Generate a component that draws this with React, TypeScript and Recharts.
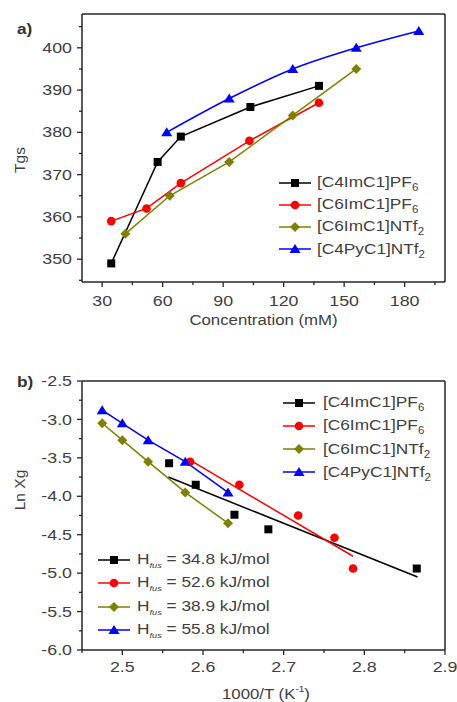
import React from 'react';
import { ComposedChart, Line, Scatter, XAxis, YAxis, Legend } from 'recharts';

const FONT = '"Liberation Sans", Arial, Helvetica, sans-serif';
const TEXT = '#404040';
const AXIS = '#262626';
const SX = 1.15; // the source picture is stretched a little horizontally

// series shared by both panels
const ilNames = ['[C4ImC1]PF6', '[C6ImC1]PF6', '[C6ImC1]NTf2', '[C4PyC1]NTf2'];
const ilColors = ['#000000', '#ff0000', '#808000', '#0000ff'];
const ilShapes = ['square', 'circle', 'diamond', 'triangle'];

// a) Tgs vs concentration
const concC4ImPF6 = [34.5, 57.5, 69, 103.5, 137.5];
const tgsC4ImPF6 = [349, 373, 379, 386, 391];
const concC6ImPF6 = [34.5, 52, 69, 103, 137.5];
const tgsC6ImPF6 = [359, 362, 368, 378, 387];
const concC6ImNTf2 = [41.5, 63.5, 93, 124.5, 156];
const tgsC6ImNTf2 = [356, 365, 373, 384, 395];
const concC4PyNTf2 = [62, 93, 124.5, 156, 187];
const tgsC4PyNTf2 = [380, 388, 395, 400, 404];

const concMajor = [30, 60, 90, 120, 150, 180];
const concMinor = [45, 75, 105, 135, 165, 195];
const tgsMajor = [350, 360, 370, 380, 390, 400];
const tgsMinor = [345, 355, 365, 375, 385, 395, 405];

// b) Ln Xg vs 1000/T
const invTC4ImPF6 = [2.558, 2.591, 2.639, 2.681, 2.865];
const lnXgC4ImPF6 = [-3.57, -3.85, -4.24, -4.43, -4.94];
const invTC6ImPF6 = [2.584, 2.645, 2.718, 2.763, 2.786];
const lnXgC6ImPF6 = [-3.55, -3.85, -4.25, -4.54, -4.94];
const invTC6ImNTf2 = [2.475, 2.5, 2.532, 2.578, 2.631];
const lnXgC6ImNTf2 = [-3.05, -3.27, -3.55, -3.95, -4.35];
const invTC4PyNTf2 = [2.475, 2.5, 2.532, 2.578, 2.631];
const lnXgC4PyNTf2 = [-2.88, -3.05, -3.27, -3.55, -3.95];

// straight fit lines drawn for the two PF6 salts
const fitInvTC4ImPF6 = [2.557, 2.866];
const fitLnC4ImPF6 = [-3.75, -5.05];
const fitInvTC6ImPF6 = [2.584, 2.786];
const fitLnC6ImPF6 = [-3.53, -4.78];

const hfusValues = [34.8, 52.6, 38.9, 55.8];

const invTMajor = [2.5, 2.6, 2.7, 2.8, 2.9];
const invTMinor = [2.45, 2.55, 2.65, 2.75, 2.85];
const lnXgMajor = [-6, -5.5, -5, -4.5, -4, -3.5, -3, -2.5];
const lnXgMinor = [-5.75, -5.25, -4.75, -4.25, -3.75, -3.25, -2.75];

const zip = (xs: number[], ys: number[]) => xs.map((x, i) => ({ x, y: ys[i] }));
const byValue = (a: number, b: number) => a - b;

const concA = [concC4ImPF6, concC6ImPF6, concC6ImNTf2, concC4PyNTf2];
const tgsA = [tgsC4ImPF6, tgsC6ImPF6, tgsC6ImNTf2, tgsC4PyNTf2];

function Marker({ shape, cx, cy, color }: any) {
  if (cx == null || cy == null) return null;
  switch (shape) {
    case 'square':
      return <rect x={cx - 4} y={cy - 4} width={8} height={8} fill={color} />;
    case 'circle':
      return <circle cx={cx} cy={cy} r={4.3} fill={color} />;
    case 'diamond':
      return <polygon points={`${cx},${cy - 5} ${cx + 5},${cy} ${cx},${cy + 5} ${cx - 5},${cy}`} fill={color} />;
    default:
      return <polygon points={`${cx},${cy - 5} ${cx + 5.5},${cy + 4} ${cx - 5.5},${cy + 4}`} fill={color} />;
  }
}

function AxisTick({ x, y, payload, side, majors, fmt, gap }: any) {
  const v = payload.value;
  const isMajor = majors.some((m: number) => Math.abs(m - v) < 1e-6);
  const len = isMajor ? 5 : 3;
  if (side === 'left') {
    return (
      <g>
        <line x1={x} x2={x - len} y1={y} y2={y} stroke={AXIS} strokeWidth={1.3} />
        {isMajor && (
          <text transform={`translate(${x - gap},${y}) scale(${SX},1)`} textAnchor="end"
            dominantBaseline="central" fontSize={15.5} fill={TEXT} fontFamily={FONT}>
            {fmt(v)}
          </text>
        )}
      </g>
    );
  }
  return (
    <g>
      <line x1={x} x2={x} y1={y} y2={y + len} stroke={AXIS} strokeWidth={1.3} />
      {isMajor && (
        <text transform={`translate(${x},${y + gap}) scale(${SX},1)`} textAnchor="middle"
          dominantBaseline="central" fontSize={15.5} fill={TEXT} fontFamily={FONT}>
          {fmt(v)}
        </text>
      )}
    </g>
  );
}

function SubName({ name }: { name: string }) {
  const m = name.match(/^(.*?)(\d)$/);
  if (!m) return <>{name}</>;
  return (
    <>
      {m[1]}
      <span style={{ fontSize: 10, position: 'relative', top: 4 }}>{m[2]}</span>
    </>
  );
}

function LegendRow({ color, shape, height, gap, children }: any) {
  return (
    <div style={{ display: 'flex', alignItems: 'center', height }}>
      <svg width={32} height={12} style={{ flex: 'none' }}>
        <line x1={0} x2={32} y1={6} y2={6} stroke={color} strokeWidth={1.5} />
        <Marker shape={shape} cx={16} cy={6} color={color} />
      </svg>
      <span style={{
        marginLeft: gap, transform: `scaleX(${SX})`, transformOrigin: 'left center',
        whiteSpace: 'nowrap', fontSize: 15, color: TEXT, fontFamily: FONT, lineHeight: '15px',
      }}>
        {children}
      </span>
    </div>
  );
}

const legendWrap = { left: 0, top: 0, width: 457, height: 0, pointerEvents: 'none' as const };

function ChartA() {
  const plotTicksX = [...concMajor, ...concMinor].sort(byValue);
  const plotTicksY = [...tgsMajor, ...tgsMinor].sort(byValue);
  return (
    <ComposedChart width={457} height={345} margin={{ top: 13, right: 11, bottom: 23, left: 22 }}>
      <XAxis dataKey="x" type="number" domain={[20, 200]} ticks={plotTicksX} interval={0}
        tickSize={0} tickMargin={0} tickLine={false} height={40}
        axisLine={{ stroke: AXIS, strokeWidth: 1.5 }}
        tick={(p: any) => <AxisTick {...p} side="bottom" majors={concMajor} fmt={(v: number) => String(v)} gap={18.5} />} />
      <XAxis xAxisId="top" orientation="top" type="number" domain={[20, 200]} height={1}
        tick={false} tickLine={false} axisLine={{ stroke: AXIS, strokeWidth: 1.5 }} />
      <YAxis dataKey="y" type="number" domain={[344.6, 408]} ticks={plotTicksY} interval={0}
        tickSize={0} tickMargin={0} tickLine={false} width={60}
        axisLine={{ stroke: AXIS, strokeWidth: 1.5 }}
        tick={(p: any) => <AxisTick {...p} side="left" majors={tgsMajor} fmt={(v: number) => String(v)} gap={10} />} />
      <YAxis yAxisId="right" orientation="right" type="number" domain={[344.6, 408]} width={1}
        tick={false} tickLine={false} axisLine={{ stroke: AXIS, strokeWidth: 1.5 }} />
      {ilNames.map((name, i) => (
        <Line key={name} name={name} data={zip(concA[i], tgsA[i])} dataKey="y"
          type={i === 3 ? 'monotone' : 'linear'} stroke={ilColors[i]} strokeWidth={1.5}
          isAnimationActive={false} activeDot={false}
          dot={(p: any) => <Marker key={`${name}-${p.index}`} shape={ilShapes[i]} cx={p.cx} cy={p.cy} color={ilColors[i]} />} />
      ))}
      <text x={17} y={28} dominantBaseline="central" fontSize={15} fontWeight="bold" fill="#333" fontFamily={FONT}
        transform={`translate(${17 * (1 - SX)},0) scale(${SX},1)`}>a)</text>
      <text transform="translate(19,160) rotate(-90)" textAnchor="middle" dominantBaseline="central"
        fontSize={15.5} fill={TEXT} fontFamily={FONT}>Tgs</text>
      <text transform={`translate(263.5,320) scale(${SX - 0.03},1)`} textAnchor="middle" dominantBaseline="central"
        fontSize={15} fill={TEXT} fontFamily={FONT}>Concentration (mM)</text>
      <Legend layout="horizontal" verticalAlign="middle" align="center" wrapperStyle={legendWrap}
        content={() => (
          <div style={{ position: 'absolute', left: 279, top: 171.7 }}>
            {ilNames.map((name, i) => (
              <LegendRow key={name} color={ilColors[i]} shape={ilShapes[i]} height={22.1} gap={6}>
                <SubName name={name} />
              </LegendRow>
            ))}
          </div>
        )} />
    </ComposedChart>
  );
}

function ChartB() {
  const plotTicksX = [...invTMajor, ...invTMinor].sort(byValue);
  const plotTicksY = [...lnXgMajor, ...lnXgMinor].sort(byValue);
  const fit = (v: number) => v.toFixed(1);
  return (
    <ComposedChart width={457} height={352} margin={{ top: 30, right: 11, bottom: 12, left: 22 }}>
      <XAxis dataKey="x" type="number" domain={[2.45, 2.9]} ticks={plotTicksX} interval={0}
        tickSize={0} tickMargin={0} tickLine={false} height={40}
        axisLine={{ stroke: AXIS, strokeWidth: 1.5 }}
        tick={(p: any) => <AxisTick {...p} side="bottom" majors={invTMajor} fmt={fit} gap={16.5} />} />
      <XAxis xAxisId="top" orientation="top" type="number" domain={[2.45, 2.9]} height={1}
        tick={false} tickLine={false} axisLine={{ stroke: AXIS, strokeWidth: 1.5 }} />
      <YAxis dataKey="y" type="number" domain={[-6, -2.5]} ticks={plotTicksY} interval={0}
        tickSize={0} tickMargin={0} tickLine={false} width={60}
        axisLine={{ stroke: AXIS, strokeWidth: 1.5 }}
        tick={(p: any) => <AxisTick {...p} side="left" majors={lnXgMajor} fmt={fit} gap={10} />} />
      <YAxis yAxisId="right" orientation="right" type="number" domain={[-6, -2.5]} width={1}
        tick={false} tickLine={false} axisLine={{ stroke: AXIS, strokeWidth: 1.5 }} />

      <Line data={zip(fitInvTC4ImPF6, fitLnC4ImPF6)} dataKey="y" type="linear" stroke={ilColors[0]}
        strokeWidth={1.5} dot={false} activeDot={false} isAnimationActive={false} />
      <Line data={zip(fitInvTC6ImPF6, fitLnC6ImPF6)} dataKey="y" type="linear" stroke={ilColors[1]}
        strokeWidth={1.5} dot={false} activeDot={false} isAnimationActive={false} />
      <Scatter data={zip(invTC4ImPF6, lnXgC4ImPF6)} dataKey="y" isAnimationActive={false}
        shape={(p: any) => <Marker shape={ilShapes[0]} cx={p.cx} cy={p.cy} color={ilColors[0]} />} />
      <Scatter data={zip(invTC6ImPF6, lnXgC6ImPF6)} dataKey="y" isAnimationActive={false}
        shape={(p: any) => <Marker shape={ilShapes[1]} cx={p.cx} cy={p.cy} color={ilColors[1]} />} />
      <Line data={zip(invTC6ImNTf2, lnXgC6ImNTf2)} dataKey="y" type="linear" stroke={ilColors[2]}
        strokeWidth={1.5} activeDot={false} isAnimationActive={false}
        dot={(p: any) => <Marker key={`o-${p.index}`} shape={ilShapes[2]} cx={p.cx} cy={p.cy} color={ilColors[2]} />} />
      <Line data={zip(invTC4PyNTf2, lnXgC4PyNTf2)} dataKey="y" type="linear" stroke={ilColors[3]}
        strokeWidth={1.5} activeDot={false} isAnimationActive={false}
        dot={(p: any) => <Marker key={`b-${p.index}`} shape={ilShapes[3]} cx={p.cx} cy={p.cy} color={ilColors[3]} />} />

      <text x={17} y={31.7} dominantBaseline="central" fontSize={15} fontWeight="bold" fill="#333" fontFamily={FONT}
        transform={`translate(${17 * (1 - SX)},0) scale(${SX},1)`}>b)</text>
      <text transform="translate(19,140) rotate(-90)" textAnchor="middle" dominantBaseline="central"
        fontSize={15.5} fill={TEXT} fontFamily={FONT}>Ln Xg</text>
      <text transform={`translate(266,349) scale(${SX - 0.03},1)`} textAnchor="middle"
        fontSize={15} fill={TEXT} fontFamily={FONT}>
        1000/T (K<tspan fontSize={9} dy={-7}>-1</tspan><tspan dy={7}>)</tspan>
      </text>
      <Legend layout="horizontal" verticalAlign="middle" align="center" wrapperStyle={legendWrap}
        content={() => (
          <>
            <div style={{ position: 'absolute', left: 283, top: 40.9 }}>
              {ilNames.map((name, i) => (
                <LegendRow key={name} color={ilColors[i]} shape={ilShapes[i]} height={23.3} gap={8}>
                  <SubName name={name} />
                </LegendRow>
              ))}
            </div>
            <div style={{ position: 'absolute', left: 98, top: 198.3 }}>
              {hfusValues.map((h, i) => (
                <LegendRow key={h} color={ilColors[i]} shape={ilShapes[i]} height={23.3} gap={6.5}>
                  H<span style={{ fontSize: 8, fontStyle: 'italic', position: 'relative', top: 4 }}>fus</span>
                  {` = ${h.toFixed(1)} kJ/mol`}
                </LegendRow>
              ))}
            </div>
          </>
        )} />
    </ComposedChart>
  );
}

export default function App() {
  return (
    <div style={{ position: 'absolute', left: 0, top: 0, width: 457, height: 702, background: '#fff', fontFamily: FONT }}>
      <div style={{ position: 'absolute', left: 0, top: 0 }}>
        <ChartA />
      </div>
      <div style={{ position: 'absolute', left: 0, top: 350 }}>
        <ChartB />
      </div>
    </div>
  );
}
